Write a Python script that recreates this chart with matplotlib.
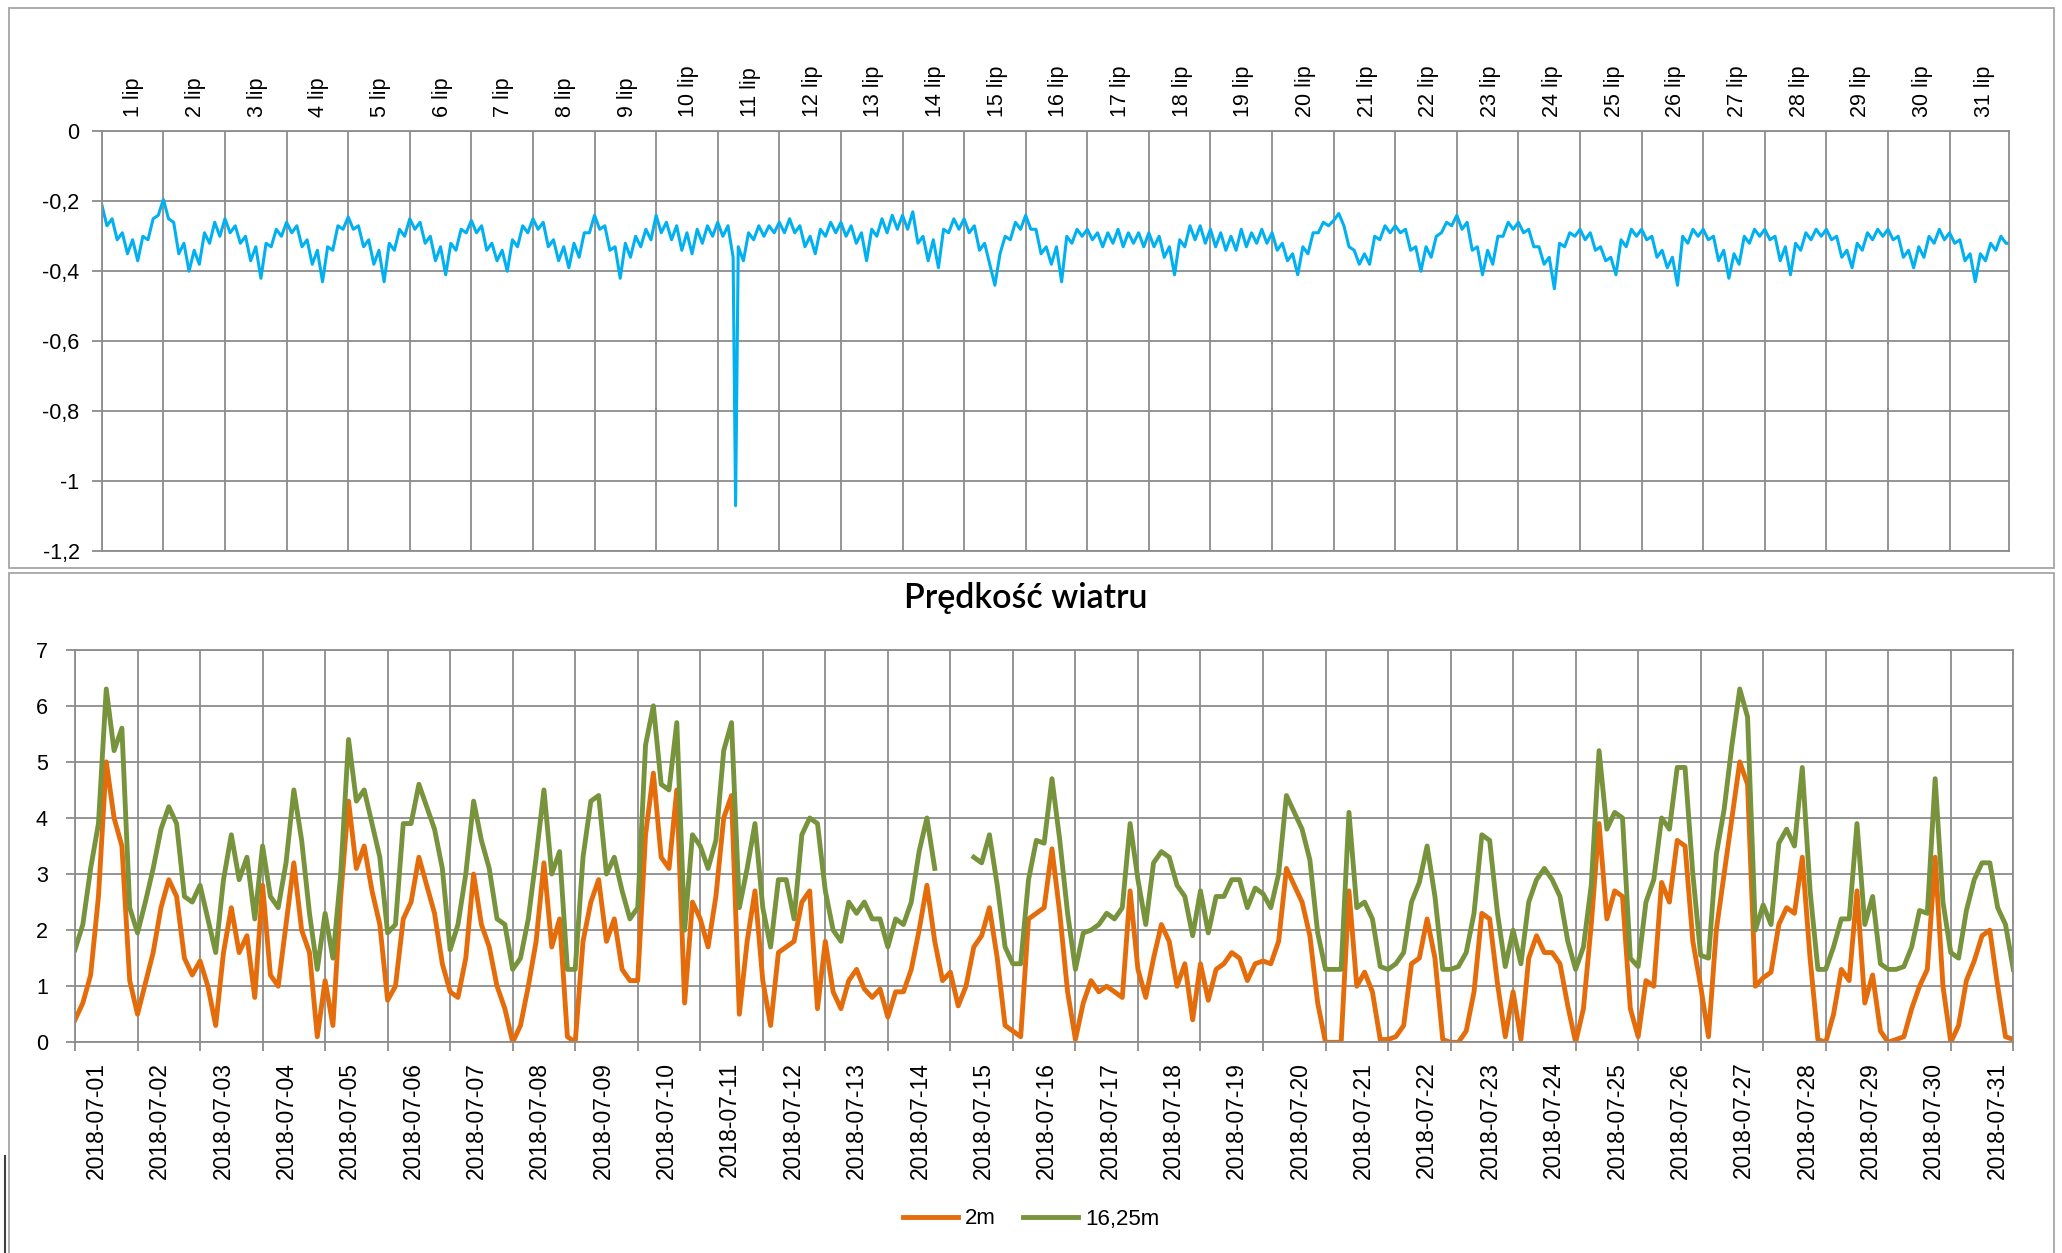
import numpy as np
import matplotlib
matplotlib.use("Agg")
import matplotlib.pyplot as plt
from matplotlib.patches import Rectangle
from matplotlib.lines import Line2D

plt.rcParams['font.family'] = ['Liberation Sans', 'DejaVu Sans']

# --- dane: poziom (co 2 h od 2018-07-01 00:00), jeden wiersz = jeden dzien
poziom = [
    -0.21, -0.27, -0.25, -0.31, -0.29, -0.35, -0.31, -0.37, -0.30, -0.31, -0.25, -0.24,
    -0.195, -0.25, -0.26, -0.35, -0.32, -0.40, -0.34, -0.38, -0.29, -0.32, -0.26, -0.30,
    -0.25, -0.29, -0.27, -0.32, -0.30, -0.37, -0.33, -0.42, -0.32, -0.33, -0.28, -0.30,
    -0.26, -0.29, -0.27, -0.33, -0.31, -0.38, -0.34, -0.43, -0.33, -0.34, -0.27, -0.28,
    -0.245, -0.28, -0.27, -0.33, -0.31, -0.38, -0.34, -0.43, -0.32, -0.34, -0.28, -0.30,
    -0.25, -0.28, -0.26, -0.32, -0.30, -0.37, -0.33, -0.41, -0.32, -0.34, -0.28, -0.29,
    -0.255, -0.29, -0.27, -0.34, -0.32, -0.37, -0.34, -0.40, -0.31, -0.33, -0.27, -0.29,
    -0.25, -0.28, -0.26, -0.33, -0.31, -0.37, -0.33, -0.39, -0.32, -0.36, -0.29, -0.29,
    -0.24, -0.28, -0.27, -0.34, -0.33, -0.42, -0.32, -0.36, -0.30, -0.33, -0.28, -0.31,
    -0.24, -0.29, -0.26, -0.31, -0.27, -0.34, -0.29, -0.35, -0.28, -0.32, -0.27, -0.30,
    -0.26, -0.30, -0.27, -0.36, -0.33, -0.37, -0.29, -0.31, -0.27, -0.30, -0.27, -0.29,
    -0.26, -0.29, -0.25, -0.29, -0.27, -0.33, -0.30, -0.35, -0.28, -0.30, -0.26, -0.29,
    -0.26, -0.30, -0.27, -0.32, -0.29, -0.37, -0.28, -0.30, -0.25, -0.29, -0.24, -0.28,
    -0.24, -0.28, -0.23, -0.32, -0.30, -0.37, -0.31, -0.39, -0.28, -0.29, -0.25, -0.28,
    -0.25, -0.29, -0.27, -0.34, -0.32, -0.38, -0.44, -0.35, -0.30, -0.31, -0.26, -0.28,
    -0.24, -0.28, -0.28, -0.35, -0.33, -0.38, -0.33, -0.43, -0.30, -0.32, -0.28, -0.30,
    -0.28, -0.31, -0.29, -0.33, -0.29, -0.32, -0.28, -0.33, -0.29, -0.32, -0.29, -0.33,
    -0.29, -0.33, -0.30, -0.36, -0.33, -0.41, -0.31, -0.33, -0.27, -0.31, -0.27, -0.32,
    -0.28, -0.33, -0.29, -0.34, -0.30, -0.34, -0.28, -0.33, -0.29, -0.32, -0.28, -0.32,
    -0.29, -0.34, -0.32, -0.37, -0.35, -0.41, -0.33, -0.35, -0.29, -0.29, -0.26, -0.27,
    -0.255, -0.235, -0.27, -0.33, -0.34, -0.38, -0.35, -0.38, -0.30, -0.31, -0.27, -0.29,
    -0.27, -0.29, -0.28, -0.34, -0.33, -0.40, -0.33, -0.36, -0.30, -0.29, -0.26, -0.27,
    -0.24, -0.28, -0.26, -0.34, -0.33, -0.41, -0.34, -0.38, -0.30, -0.30, -0.26, -0.28,
    -0.26, -0.29, -0.28, -0.33, -0.33, -0.38, -0.36, -0.45, -0.32, -0.33, -0.29, -0.30,
    -0.28, -0.31, -0.29, -0.34, -0.33, -0.37, -0.36, -0.41, -0.31, -0.33, -0.28, -0.30,
    -0.28, -0.31, -0.30, -0.36, -0.34, -0.39, -0.36, -0.44, -0.30, -0.32, -0.28, -0.30,
    -0.28, -0.31, -0.30, -0.37, -0.34, -0.42, -0.35, -0.38, -0.30, -0.32, -0.28, -0.30,
    -0.28, -0.31, -0.30, -0.37, -0.33, -0.41, -0.32, -0.34, -0.29, -0.31, -0.28, -0.30,
    -0.28, -0.31, -0.30, -0.36, -0.34, -0.39, -0.32, -0.34, -0.29, -0.31, -0.28, -0.30,
    -0.28, -0.31, -0.30, -0.36, -0.34, -0.39, -0.33, -0.36, -0.30, -0.32, -0.28, -0.31,
    -0.29, -0.32, -0.31, -0.37, -0.35, -0.43, -0.35, -0.37, -0.32, -0.34, -0.30, -0.32,
    -0.32,
]
spike_day = 10.29      # pojedynczy pomiar odstajacy 11 lip
spike_val = -1.07
dni_gora = [f"{d} lip" for d in range(1, 32)]

# --- dane: predkosc wiatru (co 3 h od 2018-07-01 00:00)
v_2m = [
    0.4, 0.7, 1.2, 2.6, 5.0, 4.0, 3.5, 1.1,
    0.5, 1.05, 1.6, 2.4, 2.9, 2.6, 1.5, 1.2,
    1.45, 1.0, 0.3, 1.6, 2.4, 1.6, 1.9, 0.8,
    2.8, 1.2, 1.0, 2.1, 3.2, 2.0, 1.6, 0.1,
    1.1, 0.3, 2.6, 4.3, 3.1, 3.5, 2.7, 2.1,
    0.75, 1.0, 2.2, 2.5, 3.3, 2.8, 2.3, 1.4,
    0.9, 0.8, 1.5, 3.0, 2.1, 1.7, 1.0, 0.6,
    0.0, 0.3, 1.0, 1.8, 3.2, 1.7, 2.2, 0.1,
    0.0, 1.8, 2.5, 2.9, 1.8, 2.2, 1.3, 1.1,
    1.1, 3.7, 4.8, 3.3, 3.1, 4.5, 0.7, 2.5,
    2.2, 1.7, 2.6, 4.0, 4.4, 0.5, 1.8, 2.7,
    1.1, 0.3, 1.6, 1.7, 1.8, 2.5, 2.7, 0.6,
    1.8, 0.9, 0.6, 1.1, 1.3, 0.95, 0.8, 0.95,
    0.45, 0.9, 0.9, 1.3, 2.0, 2.8, 1.8, 1.1,
    1.25, 0.65, 1.0, 1.7, 1.9, 2.4, 1.5, 0.3,
    0.2, 0.1, 2.2, 2.3, 2.4, 3.45, 2.3, 0.9,
    0.05, 0.7, 1.1, 0.9, 1.0, 0.9, 0.8, 2.7,
    1.3, 0.8, 1.5, 2.1, 1.8, 1.0, 1.4, 0.4,
    1.4, 0.75, 1.3, 1.4, 1.6, 1.5, 1.1, 1.4,
    1.45, 1.4, 1.8, 3.1, 2.8, 2.5, 1.9, 0.7,
    0.0, 0.0, 0.0, 2.7, 1.0, 1.25, 0.9, 0.05,
    0.05, 0.1, 0.3, 1.4, 1.5, 2.2, 1.5, 0.05,
    0.0, 0.0, 0.2, 0.9, 2.3, 2.2, 1.05, 0.1,
    0.9, 0.05, 1.5, 1.9, 1.6, 1.6, 1.4, 0.65,
    0.0, 0.6, 2.1, 3.9, 2.2, 2.7, 2.6, 0.6,
    0.1, 1.1, 1.0, 2.85, 2.5, 3.6, 3.5, 1.8,
    1.0, 0.1, 2.0, 3.0, 4.0, 5.0, 4.6, 1.0,
    1.15, 1.25, 2.1, 2.4, 2.3, 3.3, 1.5, 0.05,
    0.0, 0.5, 1.3, 1.1, 2.7, 0.7, 1.2, 0.2,
    0.0, 0.05, 0.1, 0.6, 1.0, 1.3, 3.3, 1.0,
    0.0, 0.3, 1.1, 1.45, 1.9, 2.0, 1.0, 0.1,
    0.05,
]
v_16m = [
    1.65, 2.1, 3.1, 3.9, 6.3, 5.2, 5.6, 2.4,
    1.95, 2.5, 3.1, 3.8, 4.2, 3.9, 2.6, 2.5,
    2.8, 2.2, 1.6, 2.9, 3.7, 2.9, 3.3, 2.2,
    3.5, 2.6, 2.4, 3.2, 4.5, 3.6, 2.3, 1.3,
    2.3, 1.5, 3.0, 5.4, 4.3, 4.5, 3.9, 3.3,
    1.95, 2.1, 3.9, 3.9, 4.6, 4.2, 3.8, 3.1,
    1.65, 2.1, 3.0, 4.3, 3.6, 3.1, 2.2, 2.1,
    1.3, 1.5, 2.2, 3.3, 4.5, 3.0, 3.4, 1.3,
    1.3, 3.3, 4.3, 4.4, 3.0, 3.3, 2.7, 2.2,
    2.4, 5.3, 6.0, 4.6, 4.5, 5.7, 2.0, 3.7,
    3.5, 3.1, 3.6, 5.2, 5.7, 2.4, 3.1, 3.9,
    2.4, 1.7, 2.9, 2.9, 2.2, 3.7, 4.0, 3.9,
    2.7, 2.0, 1.8, 2.5, 2.3, 2.5, 2.2, 2.2,
    1.7, 2.2, 2.1, 2.5, 3.4, 4.0, 3.1, np.nan,
    np.nan, np.nan, np.nan, 3.3, 3.2, 3.7, 2.8, 1.7,
    1.4, 1.4, 2.9, 3.6, 3.55, 4.7, 3.6, 2.3,
    1.3, 1.95, 2.0, 2.1, 2.3, 2.2, 2.4, 3.9,
    2.9, 2.1, 3.2, 3.4, 3.3, 2.8, 2.6, 1.9,
    2.7, 1.95, 2.6, 2.6, 2.9, 2.9, 2.4, 2.75,
    2.65, 2.4, 3.0, 4.4, 4.1, 3.8, 3.25, 1.95,
    1.3, 1.3, 1.3, 4.1, 2.4, 2.5, 2.2, 1.35,
    1.3, 1.4, 1.6, 2.5, 2.85, 3.5, 2.6, 1.3,
    1.3, 1.35, 1.6, 2.3, 3.7, 3.6, 2.3, 1.35,
    2.0, 1.4, 2.5, 2.9, 3.1, 2.9, 2.6, 1.8,
    1.3, 1.7, 2.8, 5.2, 3.8, 4.1, 4.0, 1.5,
    1.35, 2.5, 2.9, 4.0, 3.8, 4.9, 4.9, 3.0,
    1.55, 1.5, 3.35, 4.15, 5.3, 6.3, 5.8, 2.0,
    2.45, 2.1, 3.55, 3.8, 3.5, 4.9, 2.7, 1.3,
    1.3, 1.7, 2.2, 2.2, 3.9, 2.1, 2.6, 1.4,
    1.3, 1.3, 1.35, 1.7, 2.35, 2.3, 4.7, 2.5,
    1.6, 1.5, 2.35, 2.9, 3.2, 3.2, 2.4, 2.1,
    1.3,
]
dni_dol = [f"2018-07-{d:02d}" for d in range(1, 32)]
serie = ["2m", "16,25m"]
tytul = "Prędkość wiatru"

W, H = 2062, 1253
grid_c = '#8c8c8c'
box_c = '#a6a6a6'

fig = plt.figure(figsize=(W / 100, H / 100), dpi=100)

# ramki obu wykresow (jak w arkuszu)
fig.add_artist(Rectangle((9 / W, 1 - 568 / H), 2045 / W, 560 / H, transform=fig.transFigure,
                         fill=False, ec=box_c, lw=1.3))
fig.add_artist(Rectangle((9 / W, -0.02), 2045 / W, 1 - 573 / H + 0.02, transform=fig.transFigure,
                         fill=False, ec=box_c, lw=1.3))
fig.add_artist(Line2D([5 / W, 5 / W], [0, 1 - 1156 / H], transform=fig.transFigure,
                      color='#404040', lw=1.5))


def fmt(v):
    v = round(float(v), 1) + 0.0
    return ('%g' % v).replace('.', ',')


def style(ax):
    for s in ax.spines.values():
        s.set_color(grid_c)
        s.set_linewidth(1.3)
    ax.grid(True, which='major', color=grid_c, lw=1.3)
    ax.set_axisbelow(True)


# --- gorny wykres
ax1 = fig.add_axes([101.8 / W, 1 - 551.2 / H, (2008.7 - 101.8) / W, 419.9 / H])
t1 = np.arange(len(poziom)) / 12
i = np.searchsorted(t1, spike_day)
t1 = np.insert(t1, i, spike_day)
y1 = np.insert(np.array(poziom), i, spike_val)
ax1.plot(t1, y1, color='#00b0f0', lw=2.2)
ax1.set_xlim(0, 30.96)
ax1.set_ylim(-1.2, 0)
style(ax1)
yt = np.linspace(0, -1.2, 7)
ax1.set_yticks(yt, [fmt(v) for v in yt])
ax1.tick_params(axis='y', length=7, width=1.3, color=grid_c, pad=9, labelsize=15.5)
ax1.set_xticks(np.arange(0, 31), [''] * 31)
ax1.set_xticks(np.linspace(0.52, 30.56, 31), dni_gora, minor=True)
ax1.tick_params(axis='x', which='both', length=0, bottom=False, labelbottom=False,
                top=True, labeltop=True)
ax1.tick_params(axis='x', which='minor', rotation=90, pad=10.5, labelsize=15.5)

# --- dolny wykres
ax2 = fig.add_axes([75 / W, 1 - 1042.3 / H, (2013.3 - 75) / W, 392.6 / H])
t2 = np.arange(len(v_2m)) / 8
ax2.plot(t2, v_2m, color='#e46c0a', lw=3.5, label=serie[0])
ax2.plot(t2, v_16m, color='#77933c', lw=3.5, label=serie[1])
ax2.set_xlim(0, 31)
ax2.set_ylim(0, 7)
style(ax2)
ax2.set_yticks(range(0, 8))
ax2.tick_params(axis='y', length=6.5, width=1.3, color=grid_c, pad=13, labelsize=15.5)
ax2.set_xticks(np.arange(0, 32), [''] * 32)
ax2.tick_params(axis='x', which='major', length=6.5, width=1.3, color=grid_c)
ax2.set_xticks(np.linspace(0.34, 30.74, 31), dni_dol, minor=True)
ax2.tick_params(axis='x', which='minor', length=0, rotation=90, pad=14, labelsize=16.5)

fig.text(1026 / W, 1 - 598 / H, tytul, ha='center', va='center', fontsize=24.5,
         fontweight=600, family=['Lato', 'DejaVu Sans'])

fig.legend(*ax2.get_legend_handles_labels(), loc='center', bbox_to_anchor=(1031 / W, 1 - 1219 / H),
           ncol=2, frameon=False, fontsize=16, handlelength=2.5, handletextpad=0.3,
           columnspacing=1.2)

fig.savefig('out.png', dpi=100)
